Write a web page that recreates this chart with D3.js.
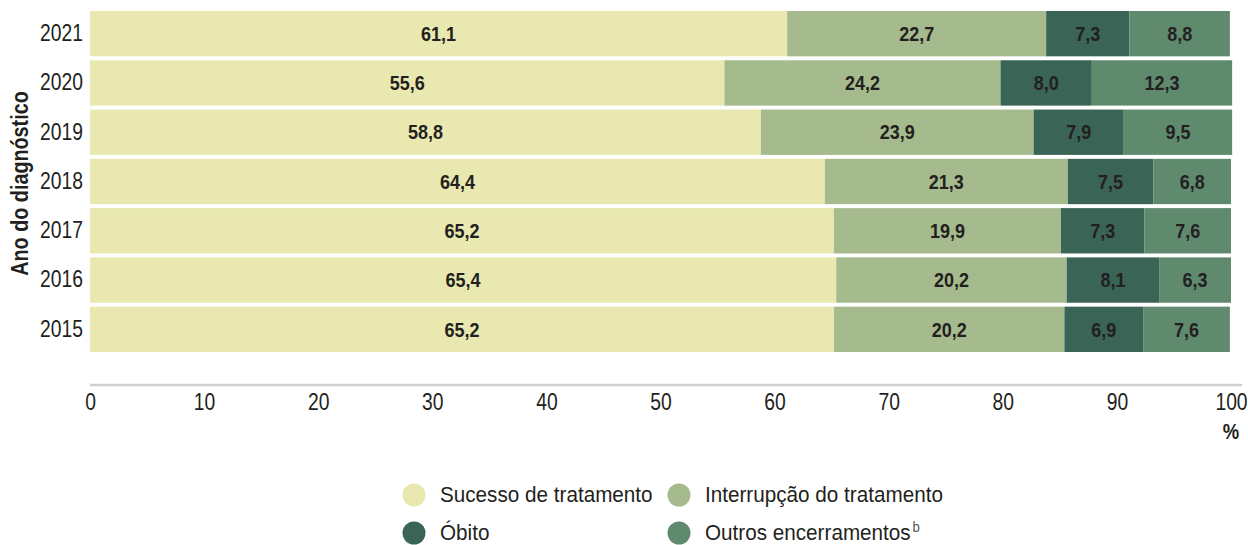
<!DOCTYPE html>
<html lang="pt">
<head>
<meta charset="utf-8">
<script src="https://cdnjs.cloudflare.com/ajax/libs/d3/7.8.5/d3.min.js"></script>
<style>
  body { margin: 0; background: #fff; }
  svg { display: block; font-family: 'Liberation Sans', Arial, sans-serif; }
</style>
</head>
<body>
<svg id="chart"></svg>
<script>
// data
var years = ["2021", "2020", "2019", "2018", "2017", "2016", "2015"];
var categories = ["Sucesso de tratamento", "Interrupção do tratamento", "Óbito", "Outros encerramentos"];
var sucesso      = [61.1, 55.6, 58.8, 64.4, 65.2, 65.4, 65.2];
var interrupcao  = [22.7, 24.2, 23.9, 21.3, 19.9, 20.2, 20.2];
var obito        = [7.3, 8.0, 7.9, 7.5, 7.3, 8.1, 6.9];
var outros       = [8.8, 12.3, 9.5, 6.8, 7.6, 6.3, 7.6];
var xTicks = [0, 10, 20, 30, 40, 50, 60, 70, 80, 90, 100];
var colors = ["#e8e8b0", "#a6bb8d", "#3a6455", "#5f8a6e"];

var width = 1248, height = 545;
var svg = d3.select("#chart").attr("width", width).attr("height", height);

// narrow look: squeeze text horizontally
var narrow = "scale(0.84,1)";

var rows = years.map(function(y, i) {
  return { year: y, values: [sucesso[i], interrupcao[i], obito[i], outros[i]] };
});

var x = d3.scaleLinear().domain([0, 100]).range([90, 1231]);
var y = d3.scaleBand().domain(years).range([10, 353]).paddingInner(0.08).paddingOuter(0.02);

var stack = d3.stack().keys([0, 1, 2, 3]).value(function(d, k) { return d.values[k]; });
var series = stack(rows);

var groups = svg.selectAll("g.series")
  .data(series)
  .enter().append("g")
    .attr("class", "series")
    .attr("fill", function(d, i) { return colors[i]; });

groups.selectAll("rect")
  .data(function(d) { return d; })
  .enter().append("rect")
    .attr("x", function(d) { return x(d[0]); })
    .attr("y", function(d) { return y(d.data.year); })
    .attr("width", function(d) { return x(d[1]) - x(d[0]); })
    .attr("height", y.bandwidth());

groups.selectAll("text")
  .data(function(d) { return d; })
  .enter().append("text")
    .attr("transform", function(d) {
      return "translate(" + (x(d[0]) + x(d[1])) / 2 + "," + (y(d.data.year) + y.bandwidth() / 2) + ") scale(0.9,1)";
    })
    .attr("dy", "0.36em")
    .attr("text-anchor", "middle")
    .attr("fill", "#231f20")
    .style("font-weight", "bold")
    .style("font-size", "20px")
    .text(function(d) { return d3.format(".1f")(d[1] - d[0]).replace(".", ","); });

// year labels
svg.append("g")
  .attr("transform", "translate(83,0)")
  .call(d3.axisLeft(y).tickSize(0).tickPadding(0))
  .call(function(g) { g.select(".domain").remove(); })
  .selectAll("text")
    .attr("transform", narrow)
    .attr("fill", "#231f20")
    .style("font-family", "'Liberation Sans', Arial, sans-serif")
    .style("font-size", "23px");

// x axis
var xAxis = svg.append("g")
  .attr("transform", "translate(0,385)")
  .call(d3.axisBottom(x).tickValues(xTicks).tickSize(0).tickPadding(9));
xAxis.select(".domain").remove();
xAxis.append("line")
  .attr("x1", 90).attr("x2", 1242)
  .attr("stroke", "#cfcfcf").attr("stroke-width", 2.5);
xAxis.selectAll("text")
  .attr("transform", narrow)
  .attr("fill", "#231f20")
  .style("font-family", "'Liberation Sans', Arial, sans-serif")
  .style("font-size", "23px");

svg.append("text")
  .attr("transform", "translate(" + x(100) + ",439) " + narrow)
  .attr("text-anchor", "middle")
  .attr("fill", "#231f20")
  .style("font-weight", "bold")
  .style("font-size", "22px")
  .text("%");

// y axis title
svg.append("text")
  .attr("transform", "translate(28," + ((y.range()[0] + y.range()[1]) / 2 + 2) + ") rotate(-90) scale(0.86,1)")
  .attr("text-anchor", "middle")
  .attr("fill", "#231f20")
  .style("font-weight", "bold")
  .style("font-size", "23px")
  .text("Ano do diagnóstico");

// legend
var legendPos = [[414, 494], [679, 494], [414, 532], [679, 532]];
var legend = svg.selectAll("g.legend")
  .data(categories)
  .enter().append("g")
    .attr("class", "legend")
    .attr("transform", function(d, i) { return "translate(" + legendPos[i][0] + "," + legendPos[i][1] + ")"; });

legend.append("circle")
  .attr("r", 11.5)
  .attr("cy", 1)
  .attr("fill", function(d, i) { return colors[i]; });

var legendText = legend.append("text")
  .attr("transform", "translate(26,0) scale(0.94,1)")
  .attr("dy", "0.36em")
  .attr("fill", "#231f20")
  .style("font-size", "22px")
  .text(function(d) { return d; });

legendText.filter(function(d, i) { return i === 3; })
  .append("tspan")
  .attr("dx", 2).attr("dy", "-0.6em")
  .style("font-size", "14px")
  .attr("fill", "#555")
  .text("b");
</script>
</body>
</html>
